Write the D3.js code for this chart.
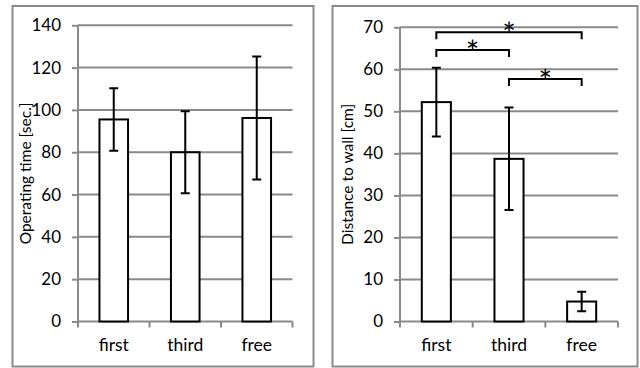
<!DOCTYPE html>
<html>
<head>
<meta charset="utf-8">
<script src="https://cdn.jsdelivr.net/npm/d3@7"></script>
<style>
  body { margin: 0; background: #fff; }
  text { font-family: Lato, "Open Sans", sans-serif; fill: #000; }
</style>
</head>
<body>
<script>
// categories shared by both panels
var categories = ["first", "third", "free"];

// left panel: operating time
var timeMeans = [95.5, 80, 96.2];
var timeErrors = [14.8, 19.4, 29.1];
var timeTicks = [0, 20, 40, 60, 80, 100, 120, 140];

// right panel: distance to wall
var distMeans = [52.2, 38.7, 4.75];
var distErrors = [8.2, 12.2, 2.3];
var distTicks = [0, 10, 20, 30, 40, 50, 60, 70];

// significance brackets: [from, to, height]
var sigPairs = [[0, 2, 68.8], [0, 1, 64.6], [1, 2, 57.7]];

var width = 640, height = 368;
var gray = "#8a8a8a";

var svg = d3.select("body").append("svg")
    .attr("width", width)
    .attr("height", height);

function drawPanel(opt) {
    var g = svg.append("g");

    //outer frame
    g.append("rect")
        .attr("x", opt.frame[0]).attr("y", opt.frame[1])
        .attr("width", opt.frame[2]).attr("height", opt.frame[3])
        .attr("fill", "#fff").attr("stroke", gray).attr("stroke-width", 2);

    var x = d3.scaleBand()
        .domain(categories)
        .range([opt.x0, opt.x1]);

    var y = d3.scaleLinear()
        .domain([0, d3.max(opt.ticks)])
        .range([opt.y0, opt.y1]);

    //gridlines
    g.selectAll(".grid")
        .data(opt.ticks.filter(function(d){ return d > 0; }))
        .enter().append("line")
        .attr("x1", opt.x0).attr("x2", opt.x1)
        .attr("y1", y).attr("y2", y)
        .attr("stroke", gray).attr("stroke-width", 2);

    //y axis
    var yAxis = g.append("g")
        .attr("transform", "translate(" + opt.x0 + ",0)")
        .call(d3.axisLeft(y).tickValues(opt.ticks).tickSize(6).tickPadding(11));
    yAxis.select(".domain").attr("stroke", gray).attr("stroke-width", 2)
        .attr("d", "M0," + opt.y0 + "V" + opt.y1);
    yAxis.selectAll(".tick line").attr("stroke", gray).attr("stroke-width", 2);
    yAxis.selectAll(".tick text").style("font-size", "17px").attr("font-family", null);

    //x axis with ticks at category boundaries
    var edges = categories.map(function(c){ return x(c); }).concat([opt.x1]);
    g.append("line")
        .attr("x1", opt.x0).attr("x2", opt.x1)
        .attr("y1", opt.y0).attr("y2", opt.y0)
        .attr("stroke", gray).attr("stroke-width", 2);
    g.selectAll(".xtick")
        .data(edges)
        .enter().append("line")
        .attr("x1", function(d){ return d; }).attr("x2", function(d){ return d; })
        .attr("y1", opt.y0).attr("y2", opt.y0 + 6)
        .attr("stroke", gray).attr("stroke-width", 2);
    g.selectAll(".xlabel")
        .data(categories)
        .enter().append("text")
        .attr("x", function(d){ return x(d) + x.bandwidth() / 2; })
        .attr("y", opt.y0 + 29)
        .attr("text-anchor", "middle")
        .style("font-size", "17.5px")
        .text(function(d){ return d; });

    //bars
    var bw = x.bandwidth() * 0.4;
    g.selectAll(".bar")
        .data(opt.means)
        .enter().append("rect")
        .attr("x", function(d, i){ return x(categories[i]) + (x.bandwidth() - bw) / 2; })
        .attr("y", function(d){ return y(d); })
        .attr("width", bw)
        .attr("height", function(d){ return opt.y0 - y(d); })
        .attr("fill", "#fff").attr("stroke", "#000").attr("stroke-width", 2);

    //error bars
    var cap = 4.5;
    g.selectAll(".err")
        .data(opt.means)
        .enter().append("path")
        .attr("d", function(d, i){
            var cx = x(categories[i]) + x.bandwidth() / 2,
                hi = y(d + opt.errors[i]),
                lo = y(d - opt.errors[i]);
            return "M" + (cx - cap) + "," + hi + "H" + (cx + cap) +
                "M" + cx + "," + hi + "V" + lo +
                "M" + (cx - cap) + "," + lo + "H" + (cx + cap);
        })
        .attr("fill", "none").attr("stroke", "#000").attr("stroke-width", 2);

    //axis title
    g.append("text")
        .attr("transform", "translate(" + (opt.x0 - 47) + "," + ((opt.y0 + opt.y1) / 2) + ") rotate(-90)")
        .attr("text-anchor", "middle")
        .style("font-size", "15.5px")
        .text(opt.title);

    return {x: x, y: y, g: g};
}

var left = drawPanel({
    frame: [12.5, 6, 301, 360.5],
    x0: 78, x1: 292.5, y0: 321.5, y1: 25.3,
    ticks: timeTicks, means: timeMeans, errors: timeErrors,
    title: "Operating time [sec.]"
});

var right = drawPanel({
    frame: [332.5, 6, 305, 360.5],
    x0: 400, x1: 618, y0: 321.5, y1: 27.3,
    ticks: distTicks, means: distMeans, errors: distErrors,
    title: "Distance to wall [cm]"
});

//significance brackets on right panel
var rx = right.x, ry = right.y;
function center(i){ return rx(categories[i]) + rx.bandwidth() / 2; }
right.g.selectAll(".sig")
    .data(sigPairs)
    .enter().append("path")
    .attr("d", function(d){
        var a = center(d[0]), b = center(d[1]), h = ry(d[2]);
        return "M" + a + "," + (h + 7) + "V" + h + "H" + b + "V" + (h + 7);
    })
    .attr("fill", "none").attr("stroke", "#000").attr("stroke-width", 2);
right.g.selectAll(".star")
    .data(sigPairs)
    .enter().append("text")
    .attr("x", function(d){ return (center(d[0]) + center(d[1])) / 2; })
    .attr("y", function(d){ return ry(d[2]) + 14; })
    .attr("text-anchor", "middle")
    .style("font-size", "32px")
    .text("*");
</script>
</body>
</html>
